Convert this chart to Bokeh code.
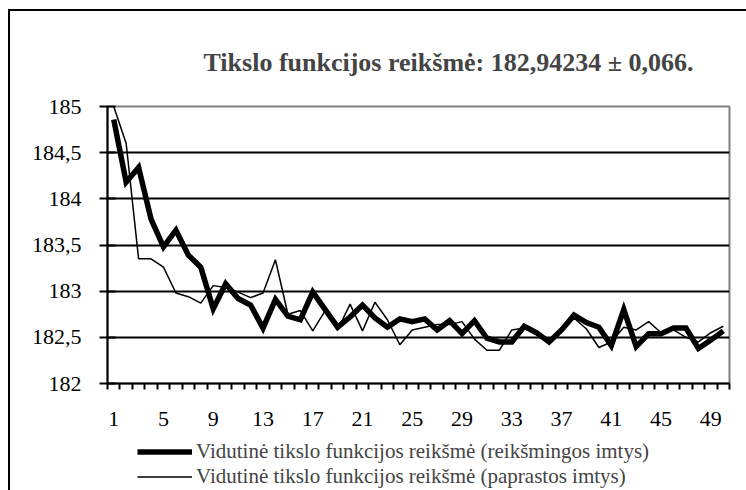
from bokeh.plotting import figure
from bokeh.layouts import column
from bokeh.models import FixedTicker, Legend, LegendItem, ColumnDataSource, Range1d
from bokeh.embed import file_html
from bokeh.resources import INLINE

iterations = list(range(1, 51))
significant = [184.86, 184.18, 184.34, 183.78, 183.48, 183.66, 183.39, 183.26, 182.81, 183.08,
               182.92, 182.85, 182.60, 182.91, 182.73, 182.69, 182.99, 182.80, 182.61, 182.72,
               182.85, 182.71, 182.61, 182.70, 182.67, 182.70, 182.58, 182.68, 182.54, 182.68,
               182.49, 182.45, 182.45, 182.62, 182.55, 182.45, 182.58, 182.74, 182.66, 182.61,
               182.41, 182.80, 182.40, 182.54, 182.54, 182.60, 182.60, 182.38, 182.47, 182.57]
simple = [185.00, 184.60, 183.35, 183.35, 183.26, 182.98, 182.94, 182.87, 183.06, 183.04,
          182.99, 182.93, 182.98, 183.34, 182.75, 182.79, 182.57, 182.79, 182.58, 182.86,
          182.57, 182.88, 182.69, 182.42, 182.58, 182.61, 182.64, 182.64, 182.67, 182.48,
          182.36, 182.36, 182.58, 182.60, 182.56, 182.46, 182.56, 182.71, 182.59, 182.39,
          182.45, 182.61, 182.58, 182.67, 182.55, 182.58, 182.50, 182.45, 182.55, 182.62]
x_label_ticks = [1, 5, 9, 13, 17, 21, 25, 29, 33, 37, 41, 45, 49]
y_tick_values = [182.0, 182.5, 183.0, 183.5, 184.0, 184.5, 185.0]
y_tick_labels = ["182", "182,5", "183", "183,5", "184", "184,5", "185"]
title_text = "Tikslo funkcijos reikšmė: 182,94234 ± 0,066."
series_names = ["Vidutinė tikslo funkcijos reikšmė (reikšmingos imtys)",
                "Vidutinė tikslo funkcijos reikšmė (paprastos imtys)"]

FONT = "Liberation Serif"
THICK = 5.5
THIN = 1.5

p = figure(width=736, height=422, output_backend="svg", toolbar_location=None,
           x_range=(0.5, 50.5), y_range=(182, 185),
           min_border_left=97, min_border_right=17, min_border_top=95, min_border_bottom=50)

p.outline_line_color = "#808080"
p.outline_line_width = 2
p.background_fill_color = "white"
p.border_fill_color = "white"

p.title.text = title_text
p.title.text_font = FONT
p.title.text_font_style = "bold"
p.title.text_font_size = "26px"
p.title.align = "left"
p.title.offset = 96
p.title.standoff = 59

src = ColumnDataSource(dict(x=iterations, sig=significant, simp=simple))
p.line("x", "sig", source=src, line_color="black", line_width=THICK, line_join="miter")
p.line("x", "simp", source=src, line_color="black", line_width=THIN)

# x axis
xa = p.xaxis[0]
minor = [i + 0.5 for i in range(0, 51)]
xa.ticker = FixedTicker(ticks=x_label_ticks, minor_ticks=minor)
xa.major_tick_out = 0
xa.major_tick_in = 0
xa.minor_tick_out = 6
xa.minor_tick_in = 0
xa.minor_tick_line_color = "black"
xa.minor_tick_line_width = 2
xa.axis_line_color = "black"
xa.axis_line_width = 2
xa.major_label_standoff = 22
xa.major_label_text_font = FONT
xa.major_label_text_font_size = "22px"
xa.major_label_text_color = "black"

# y axis
ya = p.yaxis[0]
ya.ticker = FixedTicker(ticks=y_tick_values, minor_ticks=[])
ya.major_label_overrides = {v: s for v, s in zip(y_tick_values, y_tick_labels)}
ya.major_tick_out = 8
ya.major_tick_in = 8
ya.major_tick_line_color = "black"
ya.major_tick_line_width = 2
ya.axis_line_color = "black"
ya.axis_line_width = 2
ya.major_label_standoff = 18
ya.major_label_text_font = FONT
ya.major_label_text_font_size = "22px"
ya.major_label_text_color = "black"

p.xgrid.grid_line_color = None
p.ygrid.ticker = FixedTicker(ticks=y_tick_values)
p.ygrid.grid_line_color = "black"
p.ygrid.grid_line_width = 2

# legend strip below the chart (its lines lie outside its visible range)
pl = figure(width=736, height=57, output_backend="svg", toolbar_location=None,
            x_axis_type=None, y_axis_type=None,
            x_range=(0.5, 50.5), y_range=Range1d(0, 1),
            min_border_left=0, min_border_right=0, min_border_top=0, min_border_bottom=0)
pl.outline_line_color = None
pl.background_fill_color = "white"
pl.border_fill_color = "white"
lr1 = pl.line("x", "sig", source=src, line_color="black", line_width=THICK)
lr2 = pl.line("x", "simp", source=src, line_color="black", line_width=THIN)

legend = Legend(items=[LegendItem(label=series_names[0], renderers=[lr1]),
                       LegendItem(label=series_names[1], renderers=[lr2])],
                location=(30, 1), orientation="vertical")
legend.label_text_font = FONT
legend.label_text_font_size = "21px"
legend.label_height = 25
legend.glyph_height = 25
legend.glyph_width = 55
legend.label_standoff = 4
legend.spacing = 0
legend.padding = 0
legend.margin = 0
legend.border_line_color = None
legend.background_fill_alpha = 0
pl.add_layout(legend, "center")

layout = column(p, pl, spacing=0)
layout.styles = {"margin-left": "8px", "margin-top": "9px",
                 "border-left": "2px solid black", "border-top": "2px solid black"}

open("out.html", "w").write(file_html(layout, INLINE))
